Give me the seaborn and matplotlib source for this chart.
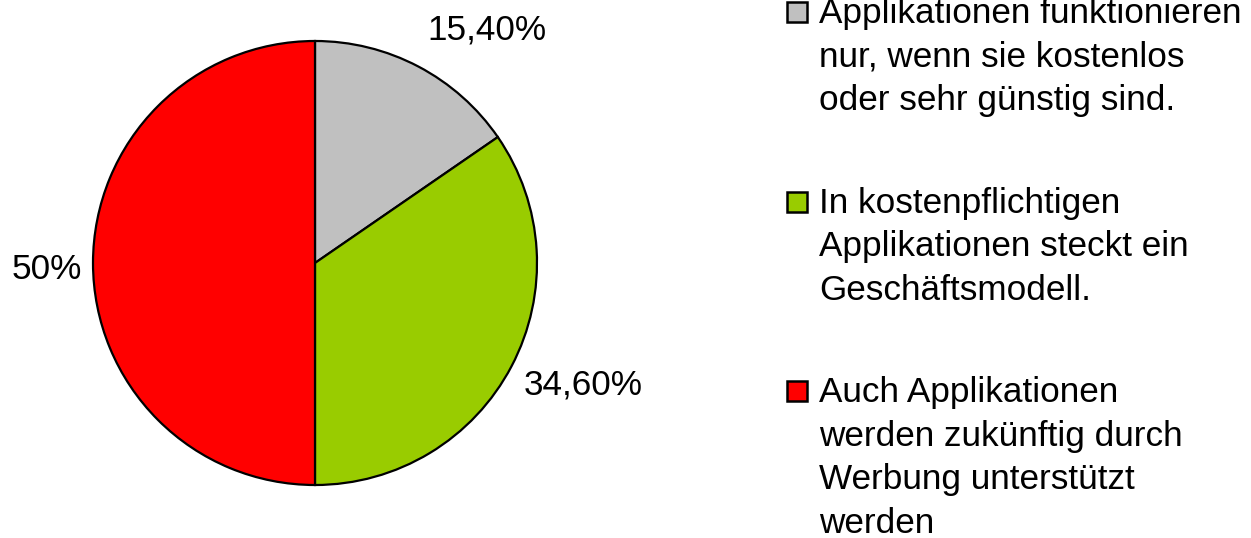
import matplotlib
matplotlib.use("Agg")
import matplotlib.pyplot as plt
import seaborn as sns
from matplotlib.patches import Rectangle

# data
shares = [15.4, 34.6, 50.0]
pct_labels = ["15,40%", "34,60%", "50%"]
legend_labels = [
    "Applikationen funktionieren\nnur, wenn sie kostenlos\noder sehr günstig sind.",
    "In kostenpflichtigen\nApplikationen steckt ein\nGeschäftsmodell.",
    "Auch Applikationen\nwerden zukünftig durch\nWerbung unterstützt\nwerden",
]
colors = ["#C0C0C0", "#99CC00", "#FF0000"]

sns.set_style("white")
plt.rcParams["font.family"] = ["Liberation Sans", "DejaVu Sans"]
plt.rcParams["text.color"] = "black"

W, H = 1251, 538
fig = plt.figure(figsize=(W / 100, H / 100), dpi=100)

# pie centre (315, 263) px, radius 222 px
cx, cy, r = 315, 263, 222
ax = fig.add_axes([(cx - r) / W, 1 - (cy + r) / H, 2 * r / W, 2 * r / H])
ax.pie(shares, colors=colors, startangle=90, counterclock=False,
       wedgeprops=dict(edgecolor="black", linewidth=1.6))
ax.set_xlim(-1, 1)
ax.set_ylim(-1, 1)
ax.axis("off")

fs = 25.3
# label positions (data coords, radius = 1)
label_pos = [(0.775, 1.05), (1.207, -0.55), (-1.207, -0.03)]
for (x, y), t in zip(label_pos, pct_labels):
    ax.text(x, y, t, ha="center", va="center", fontsize=fs, color="black",
            clip_on=False)

# manual legend: marker aligned with first line
first_baselines = [23.3, 212.8, 402.3]
pitch = 43.5
for base, lab, col in zip(first_baselines, legend_labels, colors):
    fig.add_artist(Rectangle((787 / W, 1 - (base - 1) / H), 20 / W, 20 / H,
                             transform=fig.transFigure, facecolor=col,
                             edgecolor="black", linewidth=1.8))
    for j, line in enumerate(lab.split("\n")):
        fig.text(819 / W, 1 - (base + j * pitch) / H, line, color="black",
                 ha="left", va="baseline", fontsize=fs)

fig.savefig("out.png", dpi=100)
